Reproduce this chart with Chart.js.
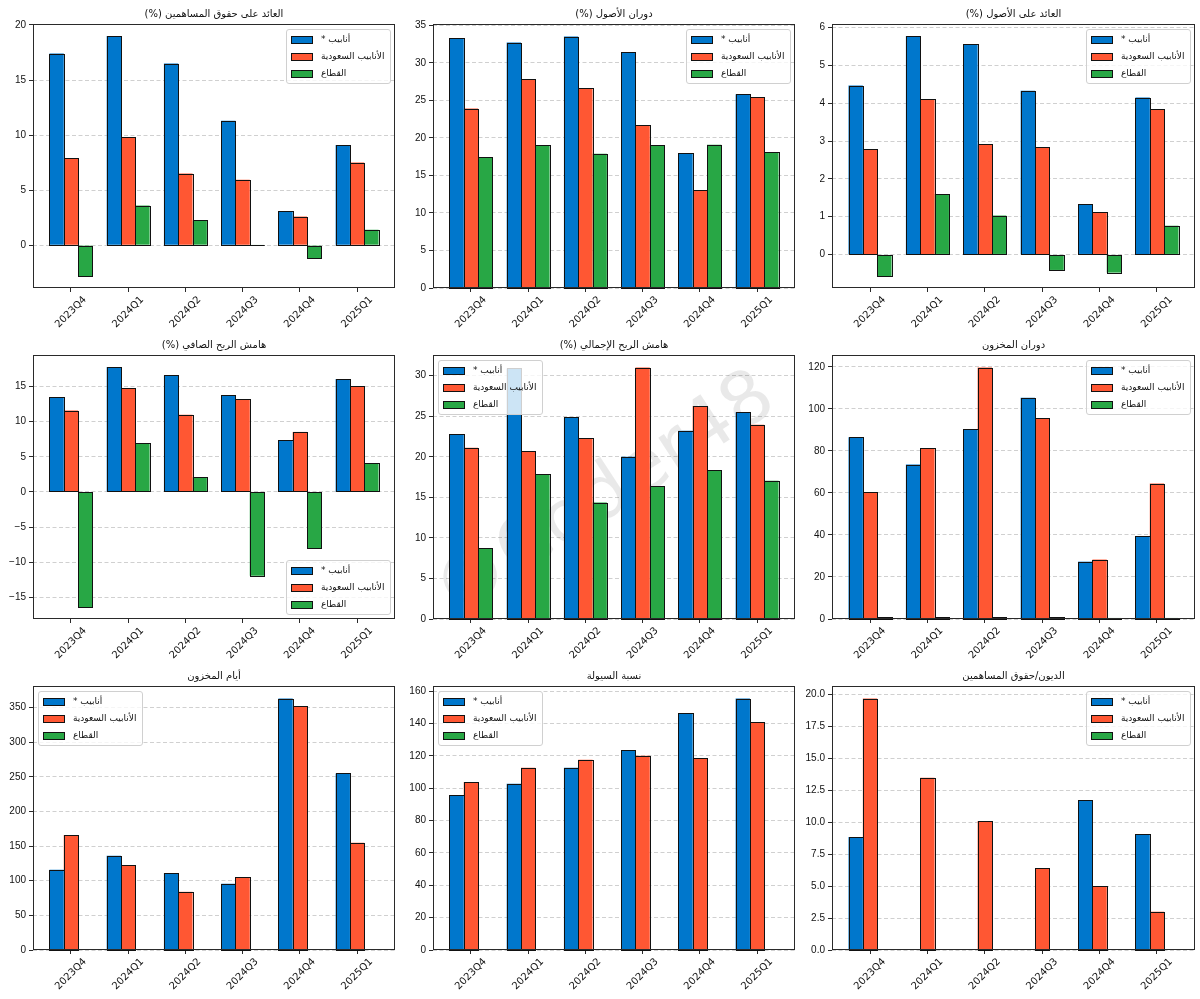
<!DOCTYPE html>
<html>
<head>
<meta charset="utf-8">
<script src="https://cdn.jsdelivr.net/npm/chart.js@4.4.1/dist/chart.umd.min.js"></script>
<style>
html,body{margin:0;padding:0;background:#fff;}
#fig{position:relative;width:1200px;height:999px;overflow:hidden;background:#fff;}
#fig canvas{position:absolute;}
</style>
</head>
<body>
<div id="fig"></div>
<script>
// categories + series names
const quarters = ['2023Q4','2024Q1','2024Q2','2024Q3','2024Q4','2025Q1'];
const seriesLabels = ['أنابيب *','الأنابيب السعودية','القطاع'];
const seriesColors = ['#0077CC','#FF5733','#28A745'];

// العائد على حقوق المساهمين (%)
const roeAnabeeb = [17.4, 19.0, 16.5, 11.3, 3.1, 9.1];
const roeSaudi   = [7.9, 9.8, 6.5, 5.95, 2.6, 7.5];
const roeSector  = [-2.8, 3.6, 2.25, 0.05, -1.2, 1.4];
// دوران الأصول (%)
const turnAnabeeb = [33.3, 32.7, 33.5, 31.4, 18.0, 25.8];
const turnSaudi   = [23.9, 27.8, 26.6, 21.7, 13.0, 25.4];
const turnSector  = [17.4, 19.0, 17.9, 19.0, 19.1, 18.1];
// العائد على الأصول (%)
const roaAnabeeb = [4.47, 5.78, 5.57, 4.33, 1.33, 4.15];
const roaSaudi   = [2.78, 4.11, 2.91, 2.84, 1.12, 3.85];
const roaSector  = [-0.57, 1.6, 1.03, -0.41, -0.48, 0.76];
// هامش الربح الصافي (%)
const netAnabeeb = [13.5, 17.8, 16.6, 13.8, 7.4, 16.1];
const netSaudi   = [11.6, 14.8, 11.0, 13.2, 8.55, 15.1];
const netSector  = [-16.4, 6.9, 2.1, -11.95, -8.0, 4.05];
// هامش الربح الإجمالي (%)
const grossAnabeeb = [22.8, 30.9, 24.85, 20.0, 23.2, 25.5];
const grossSaudi   = [21.1, 20.7, 22.3, 31.0, 26.25, 23.95];
const grossSector  = [8.7, 17.85, 14.35, 16.35, 18.35, 17.05];
// دوران المخزون
const invTurnAnabeeb = [86.5, 73.5, 90.3, 105.3, 27.3, 39.3];
const invTurnSaudi   = [60.3, 81.4, 119.7, 95.6, 28.3, 64.5];
const invTurnSector  = [0.8, 0.8, 0.8, 0.8, 0.5, 0.5];
// أيام المخزون
const invDaysAnabeeb = [116, 136, 111, 95.5, 363, 255];
const invDaysSaudi   = [166, 122, 84, 105, 352, 155];
const invDaysSector  = [null, null, null, null, null, null];
// نسبة السيولة
const liqAnabeeb = [95.7, 102.7, 112.6, 123.4, 146.3, 155.4];
const liqSaudi   = [103.9, 112.7, 117.6, 120.1, 118.4, 140.9];
const liqSector  = [null, null, null, null, null, null];
// الديون/حقوق المساهمين
const deAnabeeb = [8.85, null, null, null, 11.75, 9.05];
const deSaudi   = [19.7, 13.5, 10.1, 6.4, 4.98, 3.0];
const deSector  = [null, null, null, null, null, null];

const panelTitles = [
  'العائد على حقوق المساهمين (%)','دوران الأصول (%)','العائد على الأصول (%)',
  'هامش الربح الصافي (%)','هامش الربح الإجمالي (%)','دوران المخزون',
  'أيام المخزون','نسبة السيولة','الديون/حقوق المساهمين'
];
const panelSeries = [
  [roeAnabeeb, roeSaudi, roeSector],
  [turnAnabeeb, turnSaudi, turnSector],
  [roaAnabeeb, roaSaudi, roaSector],
  [netAnabeeb, netSaudi, netSector],
  [grossAnabeeb, grossSaudi, grossSector],
  [invTurnAnabeeb, invTurnSaudi, invTurnSector],
  [invDaysAnabeeb, invDaysSaudi, invDaysSector],
  [liqAnabeeb, liqSaudi, liqSector],
  [deAnabeeb, deSaudi, deSector]
];
const tickSteps = [5, 5, 1, 5, 5, 20, 50, 20, 2.5];
const tickDecimals = [0, 0, 0, 0, 0, 0, 0, 0, 1];
const legendCorners = ['ur','ur','ur','lr','ul','ur','ul','ul','ur'];
const watermarkText = '©Coder48';

// layout (px)
const colLeft = [33, 433, 832], colWidth = [362, 362, 363];
const rowTop = [24, 355, 686], plotH = 264;
const PAD_L = 33, PAD_T = 24, PAD_R = 5, AXIS_B = 49;

const numFont = "'Liberation Sans', 'DejaVu Sans', sans-serif";
const arFont = "'DejaVu Sans', sans-serif";

function yLimits(series){
  const vals = series.flat().filter(v => v != null);
  const lo = Math.min(0, ...vals), hi = Math.max(0, ...vals);
  const pad = (hi - lo) * 0.05;
  return {min: lo < 0 ? lo - pad : 0, max: hi > 0 ? hi + pad : 0};
}
function xLimits(n){
  const lo = -0.375, hi = n - 1 + 0.375, pad = (hi - lo) * 0.05;
  return {min: lo - pad, max: hi + pad};
}
function fmt(v, dec){
  const s = Math.abs(v).toFixed(dec);
  return v < -1e-9 ? '\u2212' + s : s;
}

function roundRect(ctx, x, y, w, h, r){
  ctx.beginPath();
  ctx.moveTo(x + r, y);
  ctx.lineTo(x + w - r, y); ctx.quadraticCurveTo(x + w, y, x + w, y + r);
  ctx.lineTo(x + w, y + h - r); ctx.quadraticCurveTo(x + w, y + h, x + w - r, y + h);
  ctx.lineTo(x + r, y + h); ctx.quadraticCurveTo(x, y + h, x, y + h - r);
  ctx.lineTo(x, y + r); ctx.quadraticCurveTo(x, y, x + r, y);
  ctx.closePath();
}

const panelDecor = {
  id: 'panelDecor',
  beforeDatasetsDraw(chart, args, o){
    if(!o.watermark) return;
    const {ctx, chartArea: a} = chart;
    ctx.save();
    ctx.translate((a.left + a.right) / 2 - 8, (a.top + a.bottom) / 2 + 10);
    ctx.rotate(-33 * Math.PI / 180);
    ctx.font = "74px " + arFont;
    ctx.fillStyle = 'rgba(0,0,0,0.085)';
    ctx.textAlign = 'center'; ctx.textBaseline = 'middle';
    ctx.fillText(watermarkText, 0, 0);
    ctx.restore();
  },
  afterDatasetsDraw(chart, args, o){
    const {ctx, chartArea: a} = chart;
    // crisp bar outlines, from the bar elements Chart.js laid out
    ctx.save();
    ctx.strokeStyle = '#111'; ctx.lineWidth = 1;
    chart.data.datasets.forEach((d, j) => {
      chart.getDatasetMeta(j).data.forEach((el, i) => {
        if (d.data[i].y == null) return;
        const p = el.getProps(['x', 'y', 'base', 'width'], true);
        if (!isFinite(p.y) || !isFinite(p.base)) return;
        const l = Math.round(p.x - p.width / 2), r = Math.round(p.x + p.width / 2);
        const t = Math.round(Math.min(p.y, p.base)), b = Math.round(Math.max(p.y, p.base));
        ctx.strokeRect(l + 0.5, t + 0.5, r - l, b - t);
      });
    });
    ctx.restore();
    // axes frame
    ctx.save();
    ctx.strokeStyle = '#2a2a2a'; ctx.lineWidth = 1;
    ctx.strokeRect(a.left + 0.5, a.top + 0.5, a.right - a.left - 1, a.bottom - a.top - 1);
    ctx.restore();
    // legend
    ctx.save();
    ctx.font = "9px " + arFont;
    ctx.direction = 'rtl';
    const sets = chart.data.datasets;
    const tw = Math.max(...sets.map(d => ctx.measureText(d.label).width));
    const bw = 5 + 22 + 8 + tw + 6, bh = 54;
    const bx = o.corner[1] === 'r' ? a.right - 5 - bw : a.left + 5;
    const by = o.corner[0] === 'u' ? a.top + 5 : a.bottom - 5 - bh;
    roundRect(ctx, Math.round(bx) + 0.5, by + 0.5, Math.round(bw), bh, 2.5);
    ctx.fillStyle = 'rgba(255,255,255,0.8)'; ctx.fill();
    ctx.strokeStyle = '#d0d0d0'; ctx.lineWidth = 1; ctx.stroke();
    const hx = Math.round(bx) + 5;
    sets.forEach((d, j) => {
      const cy = Math.round(by + 11 + j * 17);
      ctx.fillStyle = d.backgroundColor;
      ctx.fillRect(hx, cy - 4, 22, 8);
      ctx.strokeStyle = '#111';
      ctx.strokeRect(hx + 0.5, cy - 3.5, 21, 7);
      ctx.fillStyle = '#111';
      ctx.textAlign = 'left'; ctx.textBaseline = 'middle';
      ctx.fillText(d.label, hx + 22 + 8, cy);
    });
    ctx.restore();
  },
  afterDraw(chart, args, o){
    const {ctx, chartArea: a} = chart;
    // title
    ctx.save();
    ctx.font = "10px " + arFont;
    ctx.direction = 'rtl';
    ctx.fillStyle = '#111';
    ctx.textAlign = 'center'; ctx.textBaseline = 'middle';
    ctx.fillText(o.title, (a.left + a.right) / 2, a.top - 10);
    ctx.restore();
    // rotated category labels, centred under ticks
    const xs = chart.scales.x;
    ctx.save();
    ctx.font = "10px " + arFont;
    ctx.fillStyle = '#111';
    ctx.textAlign = 'center'; ctx.textBaseline = 'middle';
    quarters.forEach((q, i) => {
      const px = xs.getPixelForValue(i);
      const w = ctx.measureText(q).width, h = 11.5;
      const cy = a.bottom + 6 + (w + h) * Math.SQRT1_2 / 2;
      ctx.save();
      ctx.translate(px, cy);
      ctx.rotate(-Math.PI / 4);
      ctx.fillText(q, 0, 0);
      ctx.restore();
    });
    ctx.restore();
  }
};

const fig = document.getElementById('fig');

function makePanel(k){
  const col = k % 3, row = Math.floor(k / 3);
  const W = colWidth[col];
  const canvas = document.createElement('canvas');
  canvas.width = PAD_L + W + PAD_R;
  canvas.height = PAD_T + plotH + AXIS_B;
  canvas.style.left = (colLeft[col] - PAD_L) + 'px';
  canvas.style.top = (rowTop[row] - PAD_T) + 'px';
  fig.appendChild(canvas);

  const series = panelSeries[k];
  const yl = yLimits(series), xl = xLimits(quarters.length);
  const step = tickSteps[k], dec = tickDecimals[k];

  new Chart(canvas, {
    type: 'bar',
    data: {
      datasets: series.map((vals, j) => ({
        label: seriesLabels[j],
        data: vals.map((v, i) => ({x: i, y: v})),
        backgroundColor: seriesColors[j],
        borderWidth: 0, inflateAmount: 0,
        categoryPercentage: 0.75, barPercentage: 1
      }))
    },
    options: {
      responsive: false, animation: false, devicePixelRatio: 1,
      layout: {padding: {top: PAD_T, right: PAD_R, left: 0, bottom: 0}},
      plugins: {
        legend: {display: false}, tooltip: {enabled: false}, title: {display: false},
        panelDecor: {title: panelTitles[k], corner: legendCorners[k], watermark: k === 4}
      },
      scales: {
        x: {
          type: 'linear', min: xl.min, max: xl.max, offset: false,
          afterBuildTicks: s => { s.ticks = quarters.map((q, i) => ({value: i})); },
          afterFit: s => { s.height = AXIS_B; },
          ticks: {display: false},
          grid: {offset: false, drawOnChartArea: false, drawTicks: true, tickLength: 4, tickColor: '#2a2a2a', tickWidth: 1},
          border: {display: false}
        },
        y: {
          min: yl.min, max: yl.max, bounds: 'data',
          afterBuildTicks: s => {
            const t = [];
            for (let v = Math.ceil(s.min / step - 1e-9) * step; v <= s.max + 1e-9; v += step) t.push({value: +v.toFixed(6)});
            s.ticks = t;
          },
          afterFit: s => { s.width = PAD_L; },
          ticks: {font: {family: numFont, size: 10}, color: '#111', padding: 3, callback: v => fmt(v, dec)},
          grid: {color: 'rgba(176,176,176,0.6)', lineWidth: 1, drawTicks: true, tickLength: 4, tickColor: '#2a2a2a', tickWidth: 1, tickBorderDash: []},
          border: {display: false, dash: [4, 2.5]}
        }
      }
    },
    plugins: [panelDecor]
  });
}

for (let k = 0; k < 9; k++) makePanel(k);
</script>
</body>
</html>
